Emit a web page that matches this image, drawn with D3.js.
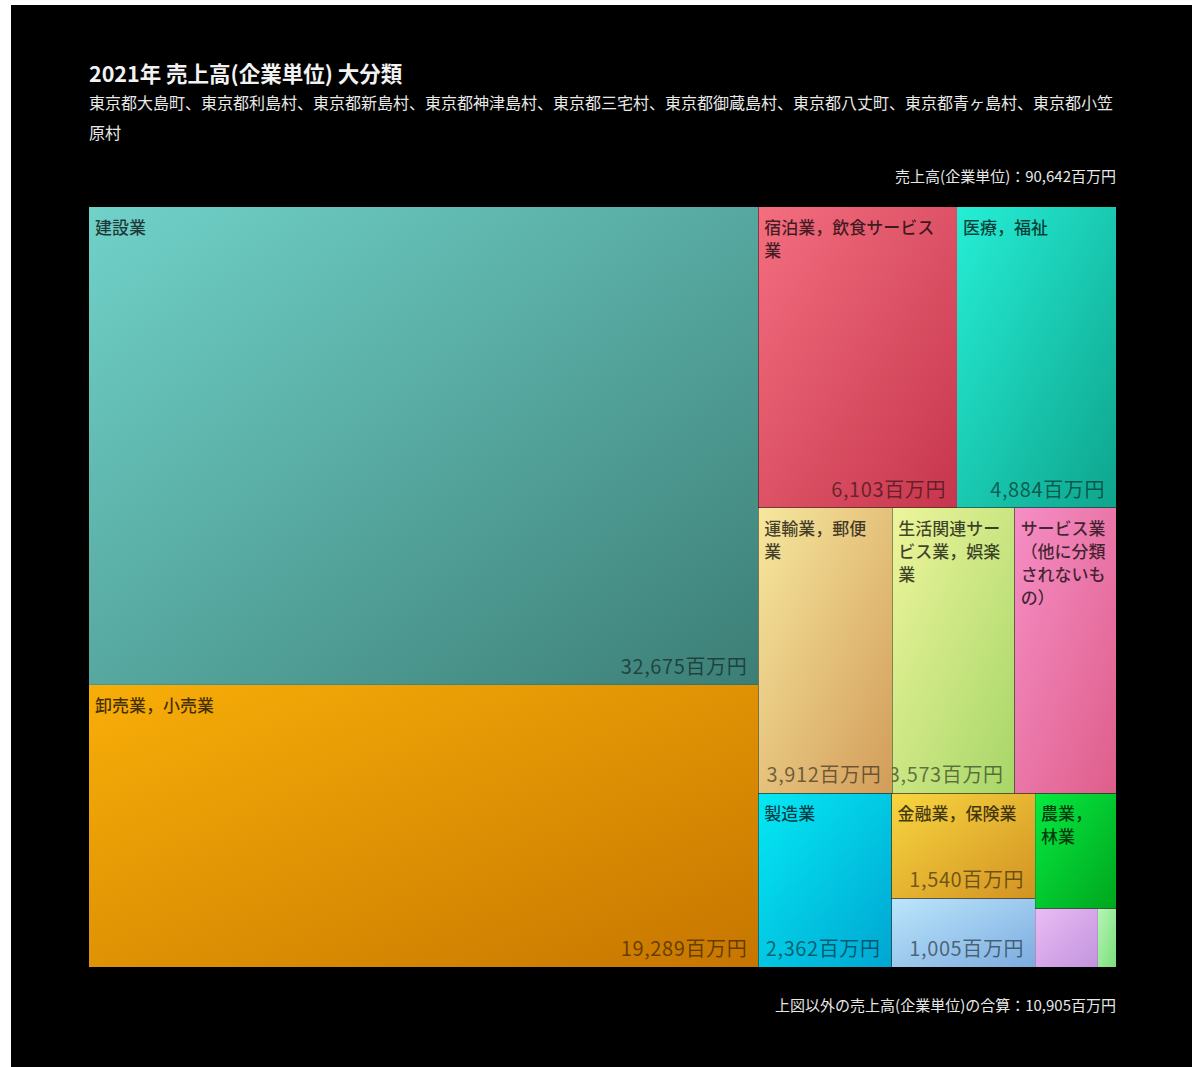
<!DOCTYPE html>
<html><head><meta charset="utf-8">
<script src="https://cdn.jsdelivr.net/npm/d3@7"></script>
<style>
body{margin:0;background:#fff;}
text{font-family:"Noto Sans CJK JP","Noto Sans",sans-serif;}
</style>
</head><body><svg id="c" width="1192" height="1067"></svg>
<script>
// ---- data ----
const categories = [
  "建設業", "卸売業，小売業",
  "宿泊業，飲食サービス業", "医療，福祉",
  "運輸業，郵便業", "生活関連サービス業，娯楽業", "サービス業（他に分類されないもの）",
  "製造業", "金融業，保険業", "不動産業，物品賃貸業",
  "農業，林業", "学術研究，専門・技術サービス業", "情報通信業"
];
const values = [32675, 19289, 6103, 4884, 3912, 3573, 2960, 2362, 1540, 1005, 950, 376, 108];
const colorsLight = ["#70d2c9","#f8ae08","#f46e80","#26eed6","#f7e89e","#eef59c","#f68ec6","#04e9f4","#f8d640","#bce6fb","#06ea40","#eabcf4","#b4f6b4"];
const colorsDark  = ["#3c7e76","#c67600","#c6364c","#0ea48c","#d29c5a","#a6d668","#de5e8a","#00a6d2","#d29222","#7cace0","#00a61e","#c294de","#7cde7c"];
// nesting used for the slice/dice layout (indices into categories)
const layoutGroups = [[0, 1], [[2, 3], [4, 5, 6], [7, [8, 9], [10, [11, 12]]]]];
const titleText = "2021年 売上高(企業単位) 大分類";
const subtitleText = "東京都大島町、東京都利島村、東京都新島村、東京都神津島村、東京都三宅村、東京都御蔵島村、東京都八丈町、東京都青ヶ島村、東京都小笠原村";
const totalLabel = "売上高(企業単位)：90,642百万円";
const otherLabel = "上図以外の売上高(企業単位)の合算：10,905百万円";
const unit = "百万円";

// ---- layout ----
const W = 1192, H = 1067;
const M = {left: 89, top: 207, width: 1027, height: 760};
const svg = d3.select("#c");
svg.append("rect").attr("x", 11).attr("y", 5).attr("width", W - 11).attr("height", H - 5).attr("fill", "#000");

const measurer = svg.append("text").attr("x", -1000).attr("y", -1000);
function textWidth(s, size, weight) {
  measurer.attr("font-size", size).attr("font-weight", weight || "normal").text(s);
  return measurer.node().getComputedTextLength();
}
function wrapChars(s, size, avail, weight) {
  const lines = []; let cur = "";
  for (const ch of Array.from(s)) {
    const t = cur + ch;
    if (cur && textWidth(t, size, weight) > avail) { lines.push(cur); cur = ch.trim() ? ch : ""; }
    else cur = t;
  }
  if (cur) lines.push(cur);
  return lines;
}

// titles
svg.append("text").attr("x", M.left).attr("y", 82).attr("fill", "#f2f2f2")
  .attr("font-size", 21.5).attr("font-weight", "bold").text(titleText);
const subLines = wrapChars(subtitleText, 16, M.width + 4);
const sub = svg.append("text").attr("fill", "#e8e8e8").attr("font-size", 16);
sub.selectAll("tspan").data(subLines).join("tspan")
  .attr("x", M.left).attr("y", (d, i) => 109 + i * 30).text(d => d);
svg.append("text").attr("x", M.left + M.width).attr("y", 182).attr("text-anchor", "end")
  .attr("fill", "#e8e8e8").attr("font-size", 15).text(totalLabel);
svg.append("text").attr("x", M.left + M.width).attr("y", 1011).attr("text-anchor", "end")
  .attr("fill", "#e8e8e8").attr("font-size", 15).text(otherLabel);

// hierarchy
function toNode(g) { return Array.isArray(g) ? {children: g.map(toNode)} : {idx: g, value: values[g]}; }
const root = d3.hierarchy(toNode(layoutGroups)).sum(d => d.value || 0);
d3.treemap().tile(d3.treemapSliceDice).size([M.width, M.height])(root);
const leaves = root.leaves();

const defs = svg.append("defs");
leaves.forEach(l => {
  const i = l.data.idx;
  const g = defs.append("linearGradient").attr("id", "grad" + i)
    .attr("x1", 0).attr("y1", 0).attr("x2", 1).attr("y2", 1);
  g.append("stop").attr("offset", 0).attr("stop-color", colorsLight[i]);
  g.append("stop").attr("offset", 1).attr("stop-color", colorsDark[i]);
  defs.append("clipPath").attr("id", "clip" + i).append("rect")
    .attr("x", l.x0).attr("y", l.y0).attr("width", l.x1 - l.x0).attr("height", l.y1 - l.y0);
});

const chart = svg.append("g").attr("transform", `translate(${M.left},${M.top})`);
const cell = chart.selectAll("g.cell").data(leaves).join("g").attr("class", "cell")
  .attr("clip-path", d => `url(#clip${d.data.idx})`);
cell.append("rect")
  .attr("x", d => d.x0).attr("y", d => d.y0)
  .attr("width", d => d.x1 - d.x0).attr("height", d => d.y1 - d.y0)
  .attr("fill", d => `url(#grad${d.data.idx})`);

const nameSize = 17, valueSize = 20;
cell.each(function(d) {
  const g = d3.select(this);
  const w = d.x1 - d.x0, h = d.y1 - d.y0;
  if (h >= 90 && w >= 40) {
    const lines = wrapChars(categories[d.data.idx], nameSize, w - 16, 500);
    const t = g.append("text").attr("font-size", nameSize).attr("font-weight", 500)
      .attr("fill", "rgba(0,0,0,0.72)");
    t.selectAll("tspan").data(lines).join("tspan")
      .attr("x", d.x0 + 6).attr("y", (s, k) => d.y0 + 27 + k * 23).text(s => s);
  }
  if (w >= 120 && h >= 50) {
    g.append("text").attr("x", d.x1 - 11).attr("y", d.y1 - 11)
      .attr("text-anchor", "end").attr("font-size", valueSize)
      .attr("letter-spacing", 0.6)
      .attr("fill", "rgba(0,0,0,0.52)")
      .text(d3.format(",")(values[d.data.idx]) + unit);
  }
});
measurer.remove();
</script>
</body></html>
